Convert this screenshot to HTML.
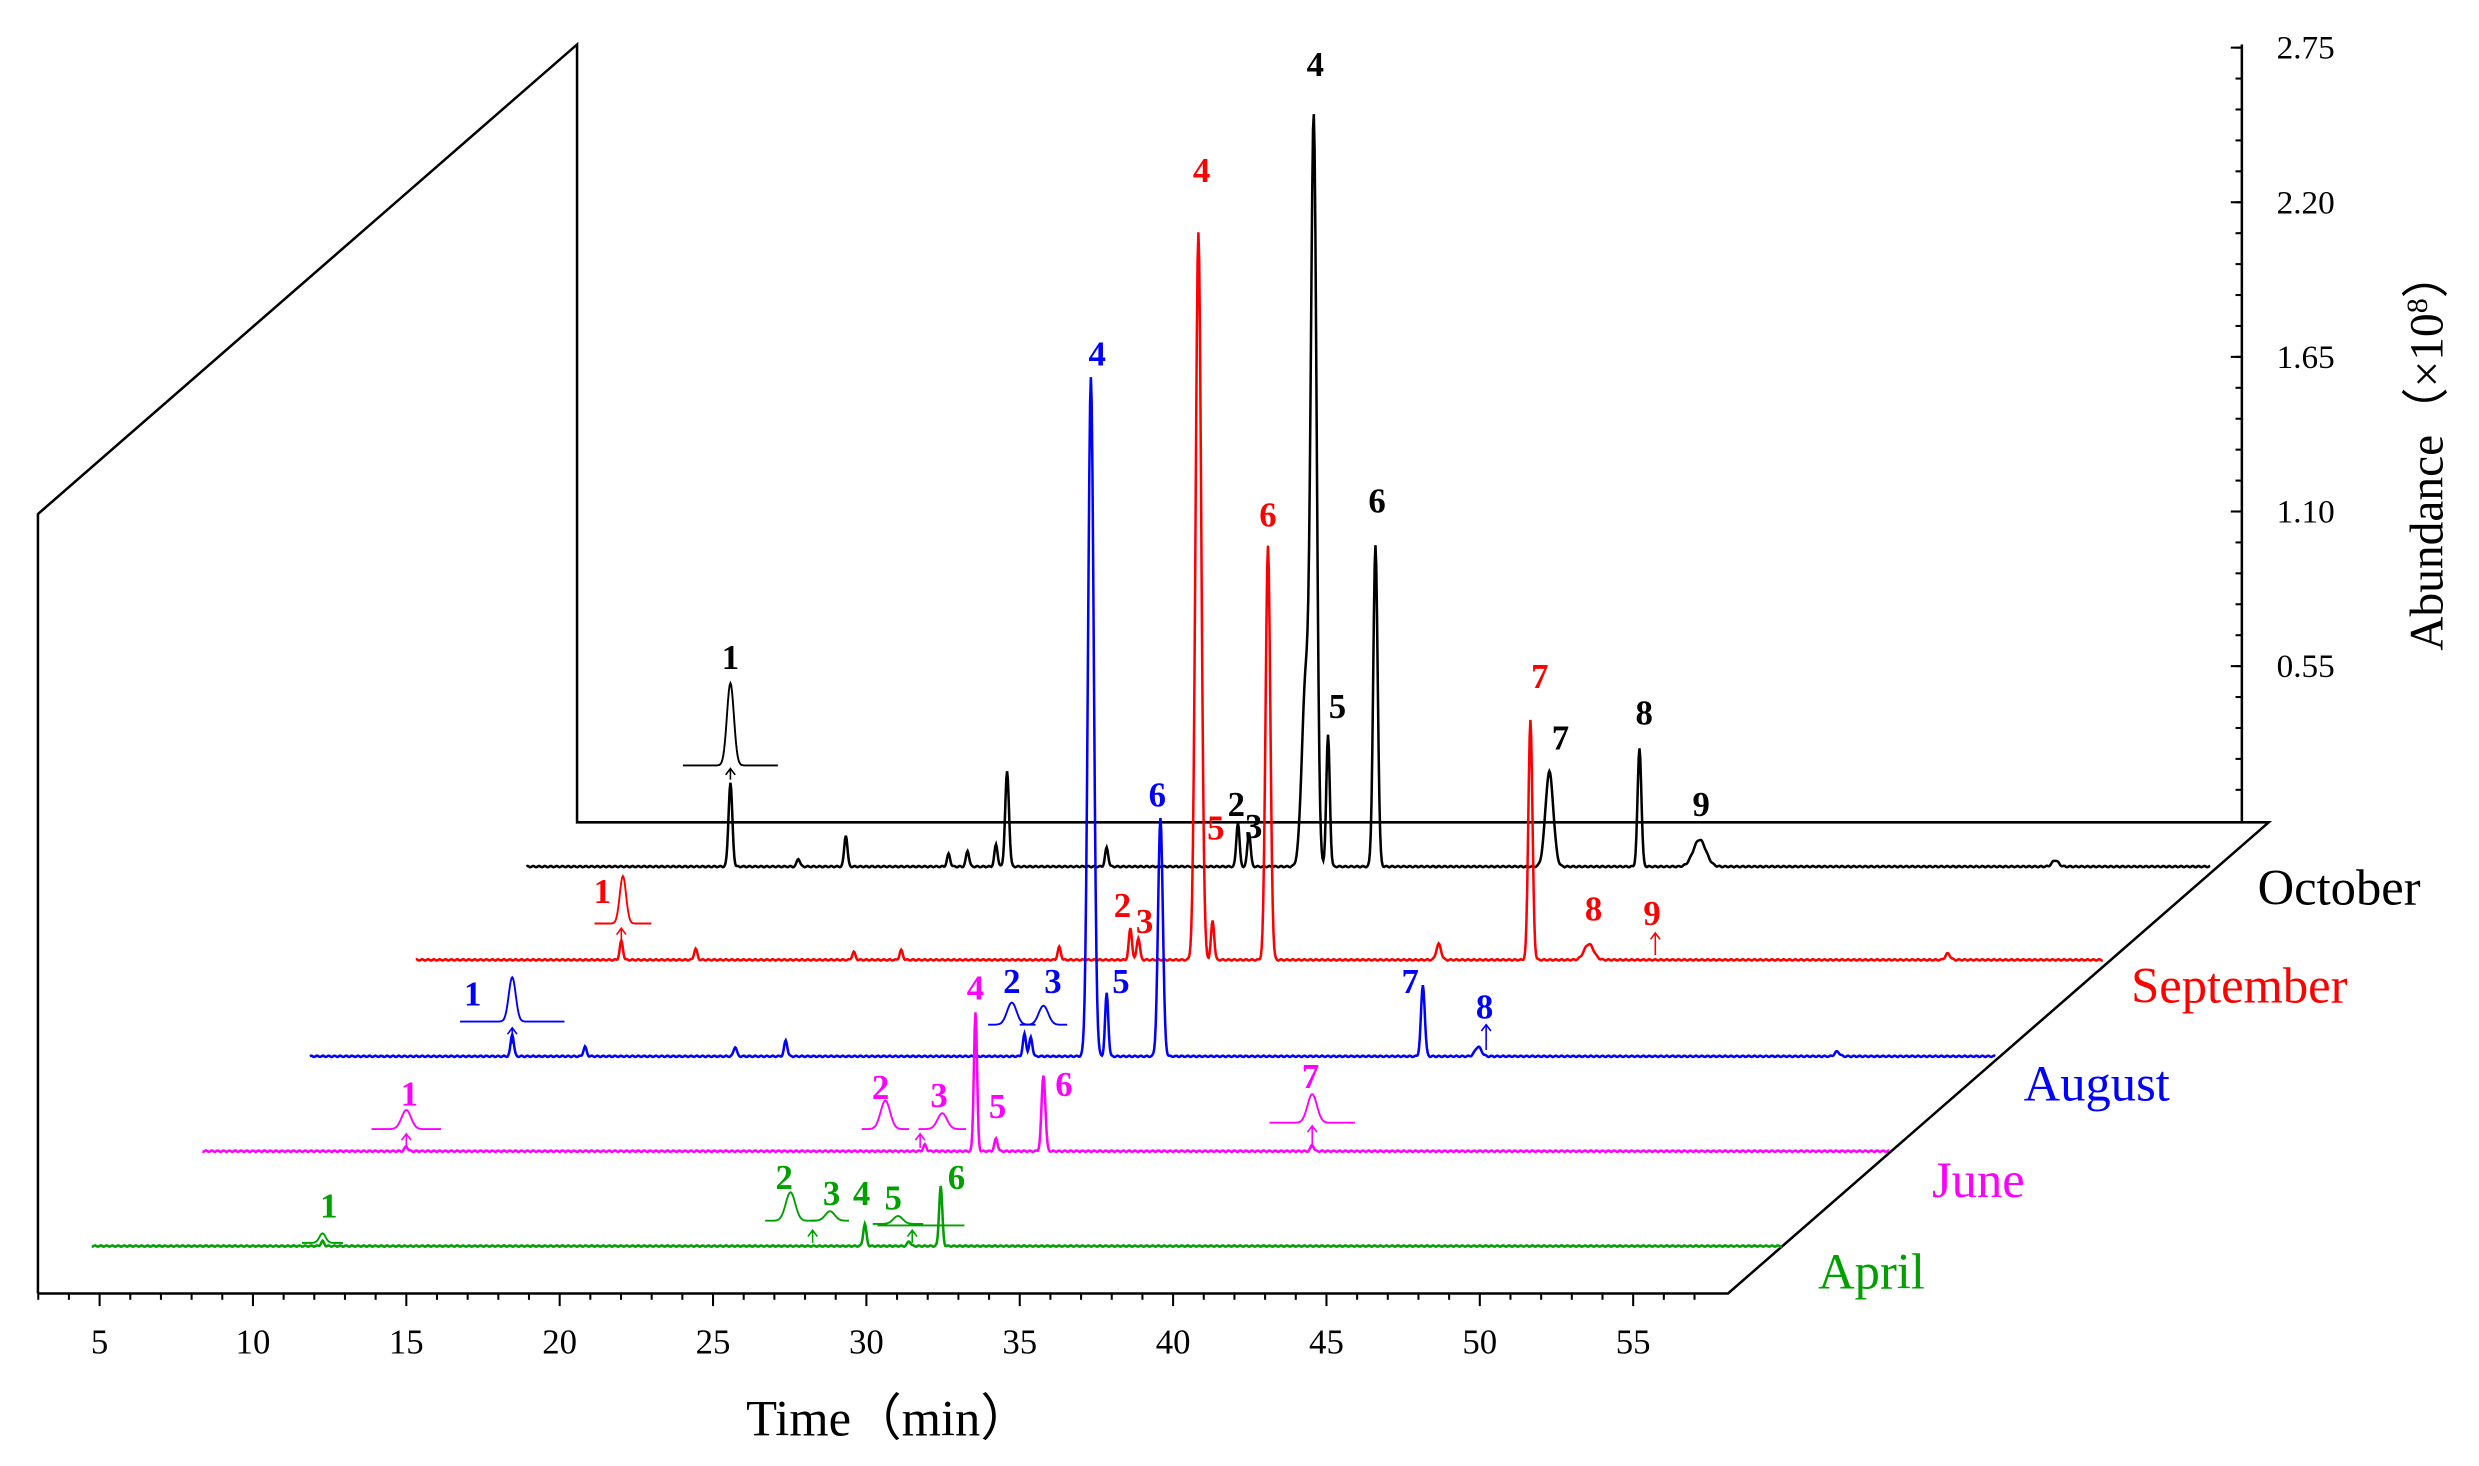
<!DOCTYPE html>
<html><head><meta charset="utf-8"><style>
html,body{margin:0;padding:0;background:#fff;}
svg{display:block;}
text{font-family:"Liberation Serif",serif;}
.lb{font-weight:bold;font-size:22px;text-anchor:middle;}
</style></head><body>
<svg id="s" width="2479" height="1466" viewBox="0 0 1568 927" xmlns="http://www.w3.org/2000/svg">
<rect width="1568" height="927" fill="#fff"/>
<g stroke="#000" stroke-width="1.6" fill="none">
<polyline points="24,818 24,325 365,28 365,520 1435,520 1093,818 24,818"/>
<line x1="1418" y1="28" x2="1418" y2="520"/>
</g>
<g id="ticks" stroke="#000" stroke-width="1.3"></g>
<g font-size="22" text-anchor="middle" id="xl"></g>
<g font-size="21" id="yl"></g>
<text x="562" y="908" font-size="32" text-anchor="middle">Time（min）</text>
<text transform="translate(1545,285) rotate(-90)" font-size="30" text-anchor="middle">Abundance（×10<tspan dy="-10" font-size="19">8</tspan><tspan dy="10">）</tspan></text>
<g id="series" fill="none" stroke-width="1.6"></g>
<g id="labels"></g>
<text x="1428" y="572" font-size="32">October</text>
<text x="1348" y="634" font-size="32" fill="#ff0000">September</text>
<text x="1280" y="696" font-size="32" fill="#0000ff">August</text>
<text x="1222" y="757" font-size="32" fill="#ff00ff">June</text>
<text x="1150" y="815" font-size="32" fill="#00a000">April</text>
</svg>
<script>
var NS="http://www.w3.org/2000/svg";
function el(p,t,a,txt){var e=document.createElementNS(NS,t);for(var k in a)e.setAttribute(k,a[k]);if(txt!=null)e.textContent=txt;document.getElementById(p).appendChild(e);return e;}
for(var t=5;t<=57;t++){var x=63+(t-5)*19.4;if(x>1093)break;var L=(t%5==0)?8:4;el("ticks","line",{x1:x,y1:818,x2:x,y2:818+L});if(t%5==0)el("xl","text",{x:x,y:856},t);}
for(var t=3;t<5;t++){var x=63+(t-5)*19.4;if(x>24)el("ticks","line",{x1:x,y1:818,x2:x,y2:822});}
var yv=["2.75","2.20","1.65","1.10","0.55"];
for(var i=0;i<5;i++){var y=30+i*97.8;el("ticks","line",{x1:1418,y1:y,x2:1411,y2:y});el("yl","text",{x:1440,y:y+7},yv[i]);}
for(var i=0;i<25;i++){var y=30+i*19.56;el("ticks","line",{x1:1418,y1:y,x2:1414,y2:y});}
var S=[
{c:"#000",y:548,x0:333,x1:1398,p:[[462,53,1.2],[505,5,1],[535,20,1],[600,8,1],[612,10,1],[630,14,1],[637,60,1.2],[700,12,1],[783,28,1],[790,22,1],[826,120,2.5],[831,460,1.8],[840,83,1.1],[870,203,1.4],[980,60,2.5],[1037,75,1.2],[1075,17,4],[1300,4,2]]},
{c:"#ff0000",y:607,x0:263,x1:1330,p:[[393,12,1],[440,7,1],[540,5,1],[570,6,1],[670,8,1],[715,20,1],[720,14,1],[758,460,1.8],[767,25,1],[802,262,1.5],[910,10,1.5],[968,152,1.3],[1005,10,3],[1232,4,1.5]]},
{c:"#0000ff",y:668,x0:196,x1:1262,p:[[324,14,1],[370,6,1],[465,6,1],[497,10,1],[648,14,1],[652,12,1],[690,430,1.8],[700,40,1],[734,151,1.5],[900,45,1.2],[935,6,2],[1162,3,1.5]]},
{c:"#ff00ff",y:728,x0:128,x1:1195,p:[[257,3,1],[585,4,1],[617,88,1],[630,8,1],[660,48,1.2],[830,4,1]]},
{c:"#00a000",y:788,x0:58,x1:1127,p:[[204,3,1],[547,14,1],[595,38,1],[575,3,1]]}];
S.forEach(function(s){var d="";for(var x=s.x0;x<=s.x1;x+=0.5){var h=0;s.p.forEach(function(q){var z=(x-q[0])/q[2];if(Math.abs(z)<6)h+=q[1]*Math.exp(-z*z/2);});h+=Math.sin(x*1.7)*0.4;d+=(d?"L":"M")+x.toFixed(1)+","+(s.y-h).toFixed(1);}el("series","path",{d:d,stroke:s.c});});
function inset(c,cx,by,w,h,sg){var d="";for(var x=cx-w/2;x<=cx+w/2;x+=0.5){var z=(x-cx)/sg;d+=(d?"L":"M")+x.toFixed(1)+","+(by-h*Math.exp(-z*z/2)).toFixed(1);}el("series","path",{d:d,stroke:c,"stroke-width":1.2});}
function arr(c,x,y1,y2){el("series","line",{x1:x,y1:y1,x2:x,y2:y2,stroke:c,"stroke-width":1});el("series","path",{d:"M"+(x-3)+","+(y1+4)+"L"+x+","+y1+"L"+(x+3)+","+(y1+4),stroke:c,"stroke-width":1});}
inset("#000",462,484,60,52,2.2);arr("#000",462,486,493);
inset("#ff0000",394,584,36,30,2);arr("#ff0000",393,587,595);
inset("#0000ff",324,646,66,28,2.2);arr("#0000ff",324,650,660);
inset("#ff00ff",257,714,44,12,3);arr("#ff00ff",257,717,726);
inset("#ff00ff",560,714,30,18,3);inset("#ff00ff",596,714,30,10,3);arr("#ff00ff",582,717,726);
inset("#ff00ff",830,710,54,18,3);arr("#ff00ff",830,712,726);
inset("#0000ff",640,648,30,14,3);inset("#0000ff",660,648,30,12,3);
inset("#00a000",204,786,26,6,2);
inset("#00a000",500,772,32,18,3);inset("#00a000",525,772,24,6,3);arr("#00a000",514,778,786);
inset("#00a000",568,774,32,5,3);el("series","line",{x1:555,y1:775,x2:610,y2:775,stroke:"#00a000","stroke-width":1.2});arr("#00a000",577,778,786);
arr("#ff0000",1047,590,604);arr("#0000ff",940,648,664);
var Lb=[["#000",462,423,"1"],["#000",832,48,"4"],["#000",782,516,"2"],["#000",793,530,"3"],["#000",846,454,"5"],["#000",871,324,"6"],["#000",987,474,"7"],["#000",1040,458,"8"],["#000",1076,516,"9"],
["#ff0000",760,115,"4"],["#ff0000",381,571,"1"],["#ff0000",710,580,"2"],["#ff0000",724,590,"3"],["#ff0000",769,531,"5"],["#ff0000",802,333,"6"],["#ff0000",974,435,"7"],["#ff0000",1008,582,"8"],["#ff0000",1045,585,"9"],
["#0000ff",694,231,"4"],["#0000ff",299,636,"1"],["#0000ff",640,628,"2"],["#0000ff",666,628,"3"],["#0000ff",709,628,"5"],["#0000ff",732,510,"6"],["#0000ff",892,628,"7"],["#0000ff",939,644,"8"],
["#ff00ff",617,632,"4"],["#ff00ff",259,699,"1"],["#ff00ff",557,695,"2"],["#ff00ff",594,700,"3"],["#ff00ff",631,707,"5"],["#ff00ff",673,693,"6"],["#ff00ff",829,688,"7"],
["#00a000",208,770,"1"],["#00a000",496,752,"2"],["#00a000",526,762,"3"],["#00a000",545,762,"4"],["#00a000",565,765,"5"],["#00a000",605,752,"6"]];
Lb.forEach(function(l){el("labels","text",{x:l[1],y:l[2],fill:l[0],"class":"lb"},l[3]);});
</script>
</body></html>
